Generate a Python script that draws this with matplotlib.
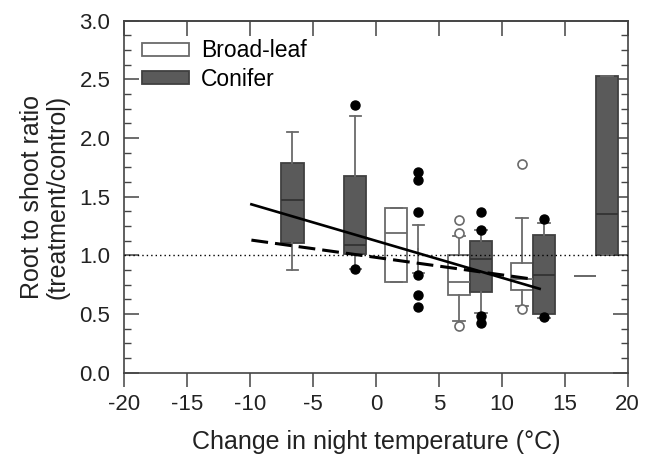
import matplotlib
matplotlib.use("Agg")
import matplotlib.pyplot as plt
from matplotlib.patches import Patch
from matplotlib.ticker import MultipleLocator

plt.rcParams["font.family"] = ["Liberation Sans", "DejaVu Sans"]
plt.rcParams["axes.unicode_minus"] = False

# broad-leaf boxes (x position = change in night temperature)
bl_pos = [1.6, 6.6, 11.6, 16.6]
bl_whislo = [0.776, 0.44, 0.565, 0.82]
bl_q1 = [0.776, 0.665, 0.705, 0.82]
bl_med = [1.19, 0.775, 0.80, 0.82]
bl_q3 = [1.40, 1.0, 0.935, 0.82]
bl_whishi = [1.40, 1.165, 1.32, 0.82]
bl_fliers = [[], [1.30, 1.19, 0.40], [1.78, 0.54], []]

# conifer boxes
con_pos = [-6.65, -1.65, 3.35, 8.35, 13.35, 18.35]
con_whislo = [0.871, 0.886, 0.85, 0.505, 0.465, 1.0]
con_q1 = [1.108, 1.012, 1.05, 0.69, 0.50, 1.0]
con_med = [1.476, 1.091, 1.05, 0.97, 0.835, 1.35]
con_q3 = [1.79, 1.676, 1.05, 1.125, 1.17, 2.53]
con_whishi = [2.054, 2.19, 1.26, 1.215, 1.275, 2.53]
con_fliers = [[], [2.28, 0.886], [1.71, 1.645, 1.37, 0.835, 0.665, 0.56],
              [1.37, 1.215, 0.48, 0.425], [1.31, 0.475], []]
con_has_box = [True, True, False, True, True, True]

# regression lines
fit_x_solid = [-9.9, 13.0]
fit_y_solid = [1.435, 0.715]
fit_x_dash = [-9.9, 12.6]
fit_y_dash = [1.13, 0.795]


def stats(lo, q1, med, q3, hi, fl):
    return [dict(whislo=a, q1=b, med=c, q3=d, whishi=e, fliers=f)
            for a, b, c, d, e, f in zip(lo, q1, med, q3, hi, fl)]


fig = plt.figure(figsize=(6.49, 4.57), dpi=100)
ax = fig.add_axes([0.1915, 0.1845, 0.7757, 0.7702])

grey = "#6a6a6a"
dark = "#5a5a5a"
w = 1.78

ax.bxp(stats(bl_whislo, bl_q1, bl_med, bl_q3, bl_whishi, bl_fliers),
       positions=bl_pos, widths=w, patch_artist=True, manage_ticks=False,
       boxprops=dict(facecolor="white", edgecolor=grey, linewidth=1.3),
       whiskerprops=dict(color=grey, linewidth=1.3),
       capprops=dict(color=grey, linewidth=1.3),
       medianprops=dict(color=grey, linewidth=1.3),
       flierprops=dict(marker="o", markerfacecolor="white",
                       markeredgecolor=grey, markersize=6.5, markeredgewidth=1.2))

res = ax.bxp(stats(con_whislo, con_q1, con_med, con_q3, con_whishi, con_fliers),
             positions=con_pos, widths=w, patch_artist=True, manage_ticks=False,
             boxprops=dict(facecolor=dark, edgecolor="#404040", linewidth=1.3),
             whiskerprops=dict(color=grey, linewidth=1.3),
             capprops=dict(color=grey, linewidth=1.3),
             medianprops=dict(color="#333333", linewidth=1.3),
             flierprops=dict(marker="o", markerfacecolor="black",
                             markeredgecolor="black", markersize=6.5))
for i, has in enumerate(con_has_box):
    if not has:
        res["boxes"][i].set_visible(False)
        res["medians"][i].set_visible(False)

ax.axhline(1.0, color="black", linestyle=(0, (1, 2.2)), linewidth=1.0, zorder=4)
ax.plot(fit_x_solid, fit_y_solid, color="black", linewidth=1.9, zorder=5)
ax.plot(fit_x_dash, fit_y_dash, color="black", linewidth=2.2,
        dashes=(5.5, 2.3), zorder=5)

ax.set_xlim(-20, 20)
ax.set_ylim(0, 3.0)
ax.xaxis.set_major_locator(MultipleLocator(5))
ax.yaxis.set_major_locator(MultipleLocator(0.5))
ax.yaxis.set_minor_locator(MultipleLocator(0.125))
ax.yaxis.set_major_formatter(plt.FormatStrFormatter("%.1f"))

spine_c = "#444444"
for s in ax.spines.values():
    s.set_color(spine_c)
    s.set_linewidth(1.2)

ax.tick_params(axis="x", which="major", direction="out", length=10, width=1.1,
               color=spine_c, labelsize=16, pad=5, labelcolor="#222222")
ax.tick_params(axis="y", which="major", direction="in", length=11, width=1.1,
               color=spine_c, labelsize=16, pad=10, right=True,
               labelcolor="#222222")
ax.tick_params(axis="y", which="minor", direction="in", length=5, width=1.0,
               color=spine_c, right=True)

top = ax.secondary_xaxis("top")
top.xaxis.set_major_locator(MultipleLocator(5))
top.tick_params(direction="in", length=11, width=1.1, color=spine_c,
                labeltop=False)
top.spines["top"].set_color(spine_c)
top.spines["top"].set_linewidth(1.2)

ax.set_xlabel("Change in night temperature (°C)", fontsize=18,
              color="#222222", labelpad=11)
ax.set_ylabel("Root to shoot ratio\n(treatment/control)", fontsize=18,
              color="#222222", labelpad=7, linespacing=1.1)

handles = [Patch(facecolor="white", edgecolor=grey, linewidth=1.3),
           Patch(facecolor=dark, edgecolor="#404040", linewidth=1.3)]
ax.legend(handles, ["Broad-leaf", "Conifer"], loc="upper left",
          bbox_to_anchor=(0.036, 0.947), frameon=False, fontsize=16.5,
          handlelength=2.05, handleheight=0.5, handletextpad=0.5,
          borderaxespad=0, borderpad=0, labelspacing=0.25)

fig.savefig("out.png", dpi=100)
